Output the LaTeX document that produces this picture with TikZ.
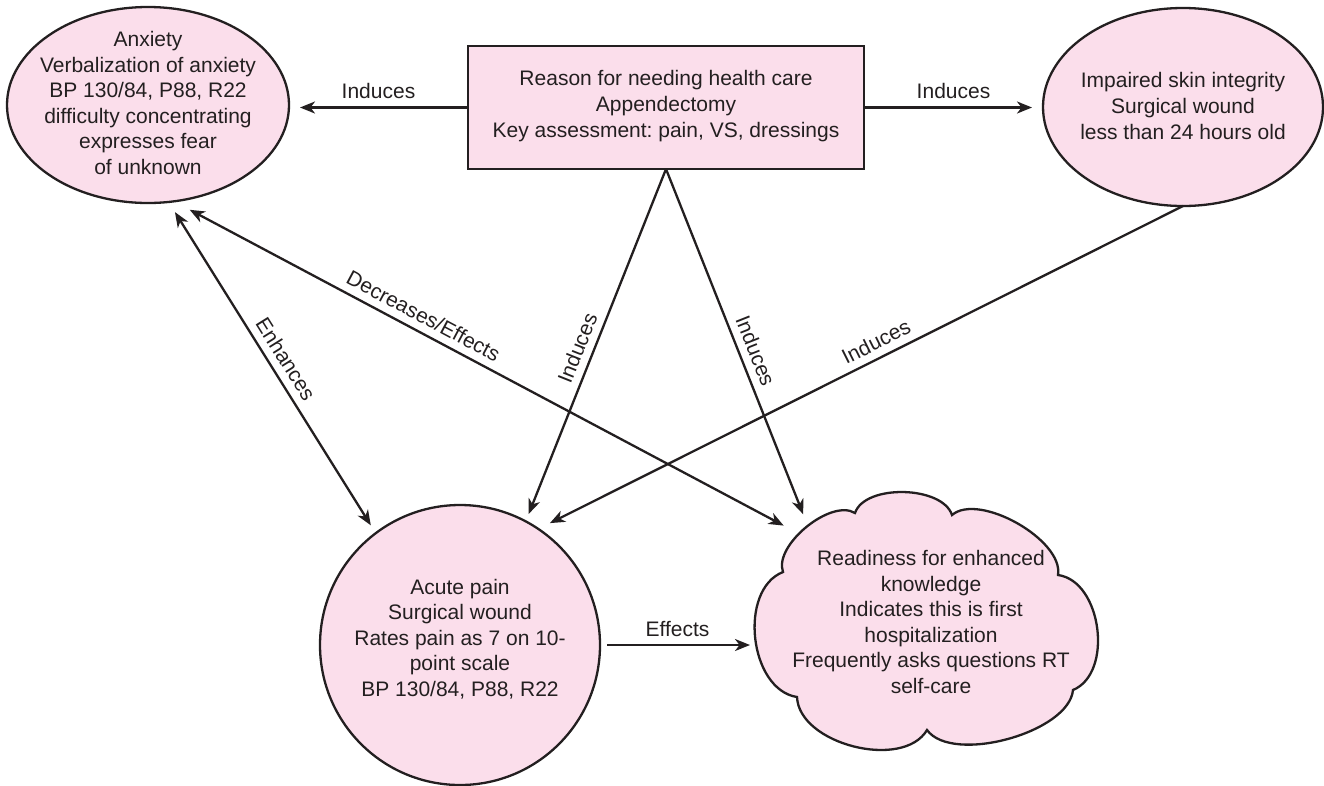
\documentclass[tikz,border=0pt]{standalone}
\usepackage{fontspec}
\setmainfont{Liberation Sans}
\frenchspacing
\usetikzlibrary{arrows.meta,shapes.geometric,calc}
\definecolor{pinkfill}{RGB}{251,222,235}
\definecolor{ink}{RGB}{35,31,32}
\tikzset{
  shapebox/.style={draw=ink, fill=pinkfill, line width=2.3pt, inner sep=0pt, outer sep=0pt},
  txt/.style={text=ink, align=center, font=\fontsize{21}{25.6}\selectfont, inner sep=0pt},
  lbl/.style={text=ink, font=\fontsize{21}{25.6}\selectfont, inner sep=3.3pt},
  tipshape/.tip={Stealth[length=15pt,width=12pt,inset=4.5pt]},
  arr/.style={draw=ink, line width=2.3pt, -tipshape},
  darr/.style={draw=ink, line width=2.3pt, tipshape-tipshape},
}
\begin{document}
\begin{tikzpicture}[x=1pt,y=-1pt]
\useasboundingbox (0,0) rectangle (1324,785);

% shapes
\node[shapebox, ellipse, minimum width=282pt, minimum height=196pt] (anx) at (148,105) {};
\node[txt] (anxt) at (148,103) {Anxiety\\Verbalization of anxiety\\BP 130/84, P88, R22\\difficulty concentrating\\expresses fear\\of unknown};

\node[shapebox, rectangle, line width=2.8pt, minimum width=396pt, minimum height=123pt] (box) at (666,107.5) {};
\node[txt] (boxt) at (666,106) {Reason for needing health care\\Appendectomy\\Key assessment: pain, VS, dressings};

\node[shapebox, ellipse, minimum width=280pt, minimum height=198pt] (imp) at (1183,107) {};
\node[txt] (impt) at (1183,106) {Impaired skin integrity\\Surgical wound\\less than 24 hours old};

\node[shapebox, circle, minimum size=280pt] (pain) at (460,645) {};
\node[txt] (paint) at (460,639) {Acute pain\\Surgical wound\\Rates pain as 7 on 10-\\point scale\\BP 130/84, P88, R22};

% cloud outline
\draw[shapebox] (783,572)
  .. controls (773.3,545.4) and (830.9,498.2) .. (855,513)
  .. controls (864.7,483.9) and (942.3,485.5) .. (952,515)
  .. controls (979,492) and (1063.8,540) .. (1058,575)
  .. controls (1101.8,581) and (1113.8,673) .. (1073,690)
  .. controls (1069,732.6) and (952.2,764.6) .. (927,730)
  .. controls (902.9,770.6) and (798.9,744.2) .. (797,697)
  .. controls (749.2,689.7) and (738,589.7) .. (783,572) -- cycle;
\node[ellipse, minimum width=344pt, minimum height=256pt, inner sep=0pt, outer sep=0pt] (cloud) at (927,620) {};
\node[txt] (cloudt) at (931,622) {Readiness for enhanced\\knowledge\\Indicates this is first\\hospitalization\\Frequently asks questions RT\\self-care};

% connectors
\draw[arr, shorten >=11pt] (box.west) -- (box.west -| anx.east)
  node[lbl, midway, above=4pt] {Induces};
\draw[arr, shorten >=11pt] (box.east) -- (box.east -| imp.west)
  node[lbl, midway, above=4pt] {Induces};
\draw[arr, shorten >=8pt] (box.south) -- (pain.62)
  node[lbl, pos=0.525, sloped, above=4pt] {Induces};
\draw[arr, shorten >=14pt] (box.south) -- (cloud.142.5)
  node[lbl, pos=0.524, sloped, above=4pt] {Induces};
\draw[arr, shorten >=13pt] (imp.south) -- (pain.56)
  node[lbl, pos=0.465, sloped, above=4pt] {Induces};
\draw[darr, shorten <=12pt, shorten >=9.3pt] (anx.-78) -- (pain.127.5)
  node[lbl, midway, sloped, above=4pt] {Enhances};
\draw[darr, shorten <=18pt, shorten >=18pt] (anx.-75) -- (cloud.146.8)
  node[lbl, pos=0.387, sloped, above=4pt] {Decreases/Effects};
\draw[arr, shorten <=7pt, shorten >=5pt] (pain.east) -- (pain.east -| cloud.west)
  node[lbl, midway, above=4pt] {Effects};
\end{tikzpicture}
\end{document}
